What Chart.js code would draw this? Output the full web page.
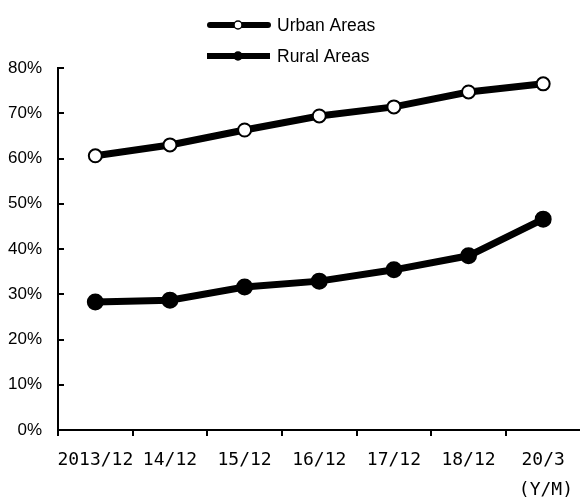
<!DOCTYPE html>
<html>
<head>
<meta charset="utf-8">
<script src="https://cdn.jsdelivr.net/npm/chart.js@4"></script>
<style>
  html, body { margin: 0; padding: 0; background: #fff; overflow: hidden; }
  #wrap { width: 590px; height: 498px; }
</style>
</head>
<body>
<div id="wrap"><canvas id="chart" width="590" height="498"></canvas></div>
<script>
const CATEGORIES = ["2013/12", "14/12", "15/12", "16/12", "17/12", "18/12", "20/3"];
const URBAN = [60.6, 63.0, 66.3, 69.4, 71.4, 74.7, 76.5];
const RURAL = [28.3, 28.7, 31.6, 32.9, 35.4, 38.5, 46.6];
const Y_TICKS = [0, 10, 20, 30, 40, 50, 60, 70, 80];
const SERIES_NAMES = ["Urban Areas", "Rural Areas"];
const UNIT_LABEL = "(Y/M)";

const MONO = "'DejaVu Sans Mono', monospace";
const SANS = "'Liberation Sans', Arial, sans-serif";

// legend drawn as line + marker, one per row, plus the unit label under the x axis
const lineLegend = {
  id: "lineLegend",
  afterDraw(chart) {
    const ctx = chart.ctx;
    const rows = [25, 56];
    chart.data.datasets.forEach((ds, i) => {
      const y = rows[i];
      ctx.save();
      ctx.strokeStyle = "#000";
      ctx.lineWidth = 6;
      ctx.lineCap = i === 0 ? "round" : "butt";
      ctx.beginPath();
      ctx.moveTo(i === 0 ? 210 : 207, y);
      ctx.lineTo(i === 0 ? 268 : 270, y);
      ctx.stroke();
      ctx.beginPath();
      ctx.arc(238, y, 4, 0, Math.PI * 2);
      ctx.fillStyle = ds.pointBackgroundColor;
      ctx.fill();
      ctx.lineWidth = 1.5;
      ctx.stroke();
      ctx.fillStyle = "#000";
      ctx.font = "17.5px " + SANS;
      ctx.textBaseline = "middle";
      ctx.textAlign = "left";
      ctx.fillText(ds.label, 277, y + 1);
      ctx.restore();
    });
    ctx.save();
    ctx.fillStyle = "#000";
    ctx.font = "18px " + MONO;
    ctx.textAlign = "right";
    ctx.textBaseline = "middle";
    ctx.fillText(UNIT_LABEL, 573, 490);
    ctx.restore();
  }
};

new Chart(document.getElementById("chart"), {
  type: "line",
  data: {
    labels: CATEGORIES,
    datasets: [
      {
        label: SERIES_NAMES[0],
        data: URBAN,
        borderColor: "#000",
        borderWidth: 7,
        pointRadius: 6.5,
        pointBorderWidth: 2,
        pointBorderColor: "#000",
        pointBackgroundColor: "#fff",
        tension: 0,
      },
      {
        label: SERIES_NAMES[1],
        data: RURAL,
        borderColor: "#000",
        borderWidth: 7,
        pointRadius: 7.5,
        pointBorderWidth: 2,
        pointBorderColor: "#000",
        pointBackgroundColor: "#000",
        tension: 0,
      },
    ],
  },
  options: {
    responsive: false,
    animation: false,
    devicePixelRatio: 1,
    layout: { padding: { top: 68, right: 4, left: 0, bottom: 0 } },
    plugins: { legend: { display: false }, tooltip: { enabled: false } },
    scales: {
      x: {
        offset: true,
        grid: {
          offset: true,
          drawOnChartArea: false,
          tickLength: 6,
          color: "#000",
          lineWidth: 2,
        },
        border: { color: "#000", width: 2 },
        ticks: {
          color: "#000",
          font: { family: MONO, size: 18 },
          padding: 14,
          maxRotation: 0,
          autoSkip: false,
        },
        afterFit: (s) => { s.height = 68; },
      },
      y: {
        min: 0,
        max: 80,
        afterBuildTicks: (s) => { s.ticks = Y_TICKS.map((v) => ({ value: v })); },
        grid: {
          drawOnChartArea: false,
          tickLength: -6,
          color: "#000",
          lineWidth: 2,
        },
        border: { color: "#000", width: 2 },
        ticks: {
          color: "#000",
          font: { family: SANS, size: 17 },
          padding: 22,
          callback: (v) => v + "%",
        },
        afterFit: (s) => { s.width = 58; },
      },
    },
  },
  plugins: [lineLegend],
});
</script>
</body>
</html>
